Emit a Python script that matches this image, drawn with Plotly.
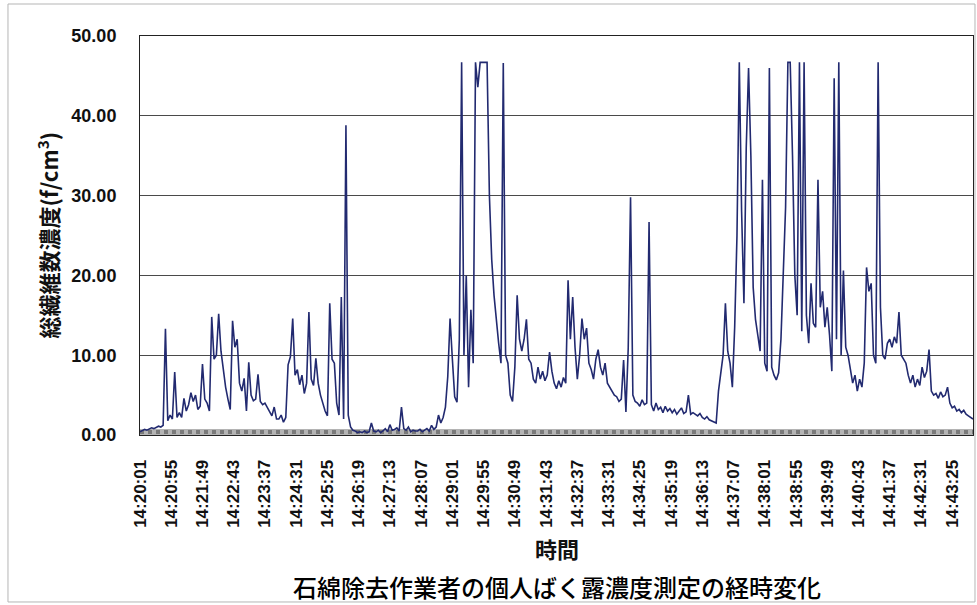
import plotly.graph_objects as go
from datetime import datetime

# Personal exposure monitoring: total fibre concentration, one reading every 4 s
start_time = "14:20:01"
sample_step_s = 4

concentration = [
    0.4, 0.6, 0.7, 0.6, 0.8, 0.9, 0.8, 1.0, 1.1, 1.0,
    1.2, 13.3, 1.8, 2.5, 2.0, 7.9, 2.2, 2.8, 2.2, 4.6,
    3.0, 3.8, 5.3, 4.2, 5.0, 3.2, 3.6, 8.9, 4.5, 4.0,
    3.0, 14.8, 9.5, 10.0, 15.2, 10.5, 8.0, 6.0, 4.5, 3.2,
    14.3, 11.0, 12.0, 6.5, 5.5, 7.1, 3.0, 9.1, 5.0, 4.3,
    4.5, 7.6, 4.2, 3.8, 4.0, 3.5, 3.0, 2.4, 3.5, 2.0,
    2.0, 2.5, 1.6, 2.2, 8.8, 9.8, 14.6, 7.5, 8.2, 6.3,
    7.5, 5.2, 6.5, 15.4, 7.0, 6.2, 9.6, 6.5, 5.0, 4.0,
    3.0, 2.4, 16.5, 9.5, 9.0, 4.0, 2.5, 17.3, 2.0, 38.8,
    2.5, 1.0, 0.6, 0.5, 0.3, 0.4, 0.3, 0.5, 0.3, 0.4,
    1.5, 0.5, 0.4, 0.6, 0.3, 0.5, 0.8, 0.4, 1.3, 0.6,
    0.7, 0.9, 0.5, 3.5, 0.8, 0.6, 1.0, 0.4, 0.6, 0.5,
    0.5, 0.7, 0.4, 0.6, 0.8, 0.5, 1.2, 0.7, 1.0, 2.5,
    1.5, 2.2, 3.5, 7.3, 14.6, 9.5, 4.8, 4.1, 12.0, 46.7,
    10.0, 20.0, 6.0, 15.7, 9.0, 46.7, 43.6, 46.7, 46.7, 46.7,
    46.7, 30.0, 22.0, 17.5, 14.0, 11.5, 9.0, 46.6, 10.0, 9.0,
    5.0, 4.2, 8.5, 17.5, 12.0, 10.5, 12.0, 14.5, 9.5, 9.0,
    7.0, 6.5, 8.5, 7.0, 8.0, 6.8, 7.5, 10.4, 8.0, 6.5,
    5.8, 6.8, 6.0, 7.2, 6.5, 19.4, 12.0, 17.3, 11.0, 7.0,
    10.0, 14.6, 12.0, 13.4, 9.0, 8.2, 7.0, 9.5, 10.7, 8.5,
    7.5, 9.0, 6.5, 6.0, 5.5, 5.0, 4.8, 4.2, 4.5, 9.4,
    2.9, 10.9, 29.8, 5.0, 4.2, 4.0, 3.6, 4.4, 3.8, 4.0,
    26.7, 3.8, 3.0, 4.0, 3.2, 3.5, 2.8, 3.6, 3.0, 3.3,
    2.8, 3.2, 2.6, 3.0, 3.4, 2.7, 2.9, 5.0, 2.6, 2.8,
    2.6, 2.4, 2.7, 2.2, 2.0, 2.3, 1.9, 1.8, 1.6, 1.5,
    5.5, 8.0, 10.0, 16.5, 10.5, 9.0, 6.0, 13.5, 25.0, 46.7,
    28.0, 16.5, 36.0, 46.0, 35.0, 18.5, 14.5, 12.5, 10.5, 32.0,
    9.0, 8.0, 46.0, 8.5, 7.5, 6.9, 7.8, 12.0, 20.0, 28.5,
    46.7, 46.7, 35.0, 20.0, 15.0, 46.7, 13.0, 46.7, 15.0, 11.5,
    19.0, 14.0, 13.5, 32.0, 16.0, 18.0, 13.5, 16.0, 12.5, 8.0,
    44.7, 12.0, 46.7, 10.0, 20.6, 11.0, 10.0, 8.0, 6.5, 7.5,
    5.5, 7.0, 6.0, 9.0, 21.0, 18.0, 19.0, 10.0, 9.0, 46.7,
    16.0, 10.0, 9.5, 11.5, 12.0, 11.0, 12.3, 11.5, 15.4, 10.0,
    9.5, 9.0, 7.5, 6.5, 7.5, 6.0, 7.0, 6.2, 8.5, 7.2,
    8.0, 10.7, 5.5, 5.0, 5.2, 4.6, 5.4, 4.8, 5.0, 6.0,
    4.0, 3.4, 3.6, 3.0, 3.2, 2.8, 3.1, 2.6, 2.4, 2.2,
    2.0,
]

# Background (blank) level plotted along the bottom of the chart
background_level = 0.38

tick_labels = [
    "14:20:01", "14:20:55", "14:21:49", "14:22:43", "14:23:37", "14:24:31",
    "14:25:25", "14:26:19", "14:27:13", "14:28:07", "14:29:01", "14:29:55",
    "14:30:49", "14:31:43", "14:32:37", "14:33:31", "14:34:25", "14:35:19",
    "14:36:13", "14:37:07", "14:38:01", "14:38:55", "14:39:49", "14:40:43",
    "14:41:37", "14:42:31", "14:43:25",
]
y_ticks = [0, 10, 20, 30, 40, 50]

y_title = "総繊維数濃度(f/cm<sup>3</sup>)"
x_title = "時間"
chart_title = "石綿除去作業者の個人ばく露濃度測定の経時変化"

t0 = datetime.strptime(start_time, "%H:%M:%S")


def seconds_from_start(label):
    return (datetime.strptime(label, "%H:%M:%S") - t0).total_seconds()


x_seconds = [i * sample_step_s for i in range(len(concentration))]
tick_positions = [seconds_from_start(s) for s in tick_labels]
x_end = x_seconds[-1]

LATIN = "Liberation Sans, Arial, sans-serif"
CJK = "Noto Sans CJK JP, sans-serif"

fig = go.Figure()

# background band: light grey base with a darker dotted texture on top
fig.add_trace(go.Scatter(
    x=[0, x_end], y=[background_level, background_level],
    mode="lines", line=dict(color="#b4b4b4", width=6),
    hoverinfo="skip", showlegend=False,
))
fig.add_trace(go.Scatter(
    x=[0, x_end], y=[background_level, background_level],
    mode="lines", line=dict(color="#7a7a7a", width=4, dash="dot"),
    hoverinfo="skip", showlegend=False,
))

fig.add_trace(go.Scatter(
    x=x_seconds, y=concentration,
    mode="lines", line=dict(color="#222a70", width=1.6),
    showlegend=False,
))

fig.update_layout(
    width=977, height=605,
    margin=dict(l=140, r=4, t=36, b=170),
    paper_bgcolor="white", plot_bgcolor="white",
    xaxis=dict(
        range=[0, x_end], tickmode="array",
        tickvals=tick_positions, ticktext=tick_labels,
        tickangle=-90, ticklabelstandoff=17,
        tickfont=dict(family=LATIN, size=17, color="#111", weight="bold"),
        showgrid=False, zeroline=False,
        showline=True, linecolor="#222", linewidth=1, mirror=True,
    ),
    yaxis=dict(
        range=[0, 50], tickmode="array", tickvals=y_ticks,
        tickformat=".2f", ticklabelstandoff=19,
        tickfont=dict(family=LATIN, size=18, color="#111", weight="bold"),
        showgrid=True, gridcolor="#4a4a4a", gridwidth=1,
        zeroline=False,
        showline=True, linecolor="#222", linewidth=1, mirror=True,
    ),
    annotations=[
        dict(text=y_title, xref="paper", yref="paper", x=0, y=0.5,
             xanchor="center", yanchor="middle", xshift=-93, textangle=-90,
             showarrow=False,
             font=dict(family=CJK, size=22, color="#111", weight="bold")),
        dict(text=x_title, xref="paper", yref="paper", x=0.5, y=0,
             xanchor="center", yanchor="middle", yshift=-113,
             showarrow=False,
             font=dict(family=CJK, size=22, color="#111", weight="bold")),
        dict(text=chart_title, xref="paper", yref="paper", x=0.5, y=0,
             xanchor="center", yanchor="middle", yshift=-151,
             showarrow=False,
             font=dict(family=CJK, size=24, color="#000", weight=500)),
    ],
    shapes=[
        dict(type="rect", xref="paper", yref="paper",
             x0=-0.1585, x1=1.0024, y0=-0.4185, y1=1.0802,
             line=dict(color="#b5b5b5", width=1), layer="below"),
    ],
)

fig.write_html("out.html")
